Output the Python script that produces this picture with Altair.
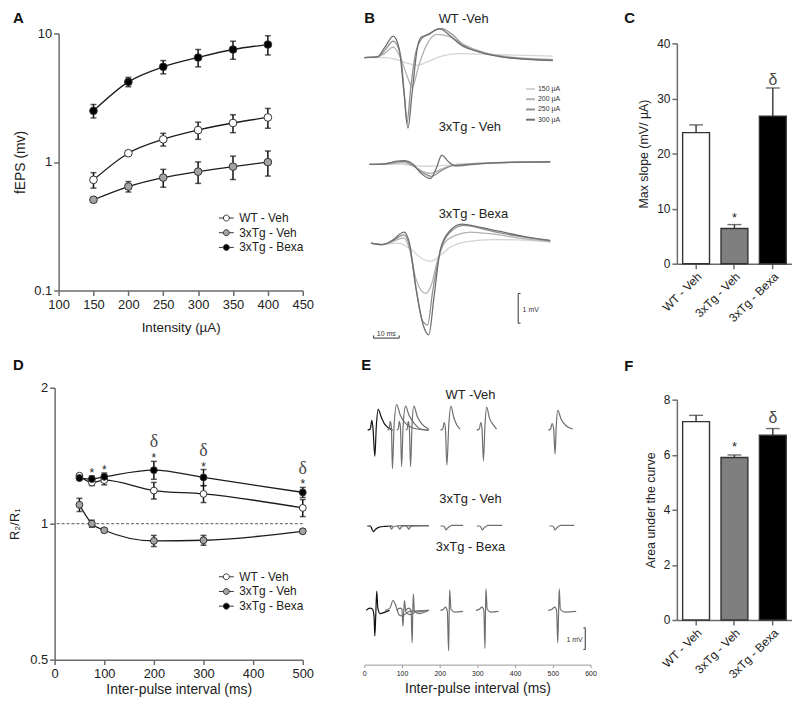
import altair as alt
import pandas as pd

FONT = "Liberation Sans"
TXT = "#222222"
AXC = "#6b6b6b"

SERIES = ["WT - Veh", "3xTg - Veh", "3xTg - Bexa"]
SERIES_FILL = ["#ffffff", "#a3a3a3", "#000000"]
BAR_FILL = ["#ffffff", "#7f7f7f", "#000000"]

# ---------------- Panel A : input / output ----------------
intensity = [150, 200, 250, 300, 350, 400]
a_wt = [0.726, 1.17, 1.50, 1.77, 2.01, 2.22]
a_wt_sem = [0.10, 0.05, 0.17, 0.27, 0.32, 0.39]
a_veh = [0.508, 0.644, 0.756, 0.841, 0.92, 0.997]
a_veh_sem = [0.02, 0.06, 0.12, 0.16, 0.19, 0.22]
a_bexa = [2.5, 4.2, 5.5, 6.5, 7.5, 8.2]
a_bexa_sem = [0.3, 0.35, 0.65, 1.0, 1.2, 1.4]

# ---------------- Panel C : max slope ----------------
c_mean = [23.8, 6.4, 26.8]
c_sem = [1.4, 0.7, 5.1]
c_star = ["", "*", ""]
c_delta = ["", "", "δ"]

# ---------------- Panel D : paired pulse ----------------
ipi = [50, 75, 100, 200, 300, 500]
d_wt = [1.277, 1.234, 1.249, 1.184, 1.164, 1.084]
d_wt_sem = [0.01, 0.02, 0.03, 0.05, 0.05, 0.047]
d_veh = [1.101, 1.0, 0.967, 0.916, 0.919, 0.962]
d_veh_sem = [0.037, 0.018, 0.01, 0.026, 0.023, 0.01]
d_bexa = [1.262, 1.256, 1.27, 1.314, 1.266, 1.173]
d_bexa_sem = [0.01, 0.02, 0.025, 0.06, 0.052, 0.03]
d_star = ["", "*", "*", "*", "*", "*"]
d_delta = ["", "", "", "δ", "δ", "δ"]

# ---------------- Panel F : area under the curve ----------------
f_mean = [7.2, 5.9, 6.71]
f_sem = [0.23, 0.09, 0.24]
f_star = ["", "*", ""]
f_delta = ["", "", "δ"]

# ---------------- Panel B : fEPSP traces (ms, mV) ----------------
INT_LEVELS = ["150 µA", "200 µA", "250 µA", "300 µA"]
INT_COLORS = ["#d4d4d4", "#b2b2b2", "#909090", "#6e6e6e"]
B_TRACES = {
    "WT": {
        "150 µA": ([0, 8, 12, 16, 20.4, 25, 30, 37, 50, 73],
                   [0, 0, -0.05, -0.17, -0.26, -0.12, 0.05, 0.13, 0.1, 0.05]),
        "200 µA": ([0, 5, 8, 11.2, 14, 16.5, 18.6, 21, 24, 28, 33, 38, 46, 56, 73],
                   [0, 0.02, 0.15, 0.35, 0.0, -0.6, -1.0, -0.3, 0.4, 0.78, 0.7, 0.45, 0.18, 0.02, -0.06]),
        "250 µA": ([0, 5, 8, 11.2, 14, 15.5, 16.5, 18, 20, 22, 25, 30, 34, 38, 46, 56, 73],
                   [0, 0.02, 0.25, 0.55, 0.1, -1.2, -2.2, -1.0, 0.2, 0.6, 0.8, 0.97, 0.78, 0.45, 0.15, 0.0, -0.08]),
        "300 µA": ([0, 5, 8, 11.2, 13.5, 15.5, 16.9, 18.5, 20.5, 22, 25, 29, 33, 37, 45, 55, 73],
                   [0, 0.02, 0.35, 0.72, 0.3, -1.3, -2.37, -1.2, 0.3, 0.68, 0.78, 0.97, 0.75, 0.45, 0.18, 0.0, -0.1]),
    },
    "Veh": {
        "150 µA": ([2, 12, 18, 24, 30, 40, 55, 72],
                   [0, 0.02, -0.03, -0.06, -0.04, 0.02, 0.06, 0.08]),
        "200 µA": ([2, 10, 15, 19, 23, 26, 30, 36, 50, 72],
                   [0, 0.02, 0.06, -0.05, -0.25, -0.3, -0.15, 0.0, 0.06, 0.09]),
        "250 µA": ([2, 8, 12, 15.4, 19, 23, 26, 30, 34, 45, 60, 72],
                   [0, 0.02, 0.08, 0.1, -0.05, -0.3, -0.4, -0.2, -0.05, 0.03, 0.08, 0.09]),
        "300 µA": ([2, 8, 12, 15.4, 19, 22, 25.6, 28, 30, 32.5, 35.6, 45, 60, 72],
                   [0, 0.02, 0.1, 0.13, 0.0, -0.3, -0.47, -0.1, 0.31, 0.1, -0.05, 0.03, 0.08, 0.09]),
    },
    "Bexa": {
        "150 µA": ([2.6, 8, 13, 18, 22, 25.6, 29, 33, 40, 50, 62, 72],
                   [0, -0.03, 0.0, -0.2, -0.5, -0.61, -0.45, -0.15, 0.05, 0.12, 0.1, 0.03]),
        "200 µA": ([2.6, 7, 11, 15.4, 17.5, 20, 23.7, 26, 28, 31, 35, 41, 50, 60, 72],
                   [0, -0.05, 0.05, 0.18, -0.2, -1.2, -1.69, -1.4, -0.7, 0.0, 0.25, 0.37, 0.3, 0.17, 0.06]),
        "250 µA": ([2.6, 7, 11, 15.4, 17.5, 20, 22.5, 24.5, 26.5, 29.5, 33, 38.5, 45, 52, 62, 72],
                   [0, -0.05, 0.08, 0.28, -0.1, -1.5, -2.6, -2.75, -1.6, -0.25, 0.35, 0.6, 0.5, 0.35, 0.2, 0.08]),
        "300 µA": ([2.6, 7, 11, 15.4, 17.5, 20, 23, 25, 27, 29.5, 33, 37.8, 44, 52, 62, 72],
                   [0, -0.05, 0.1, 0.37, 0.0, -1.5, -2.8, -3.08, -1.8, -0.2, 0.4, 0.64, 0.55, 0.4, 0.22, 0.09]),
    },
}

# ---------------- Panel E : paired-pulse traces (ms, mV) ----------------
E_TRACES = {
    "WT": {
        "conditioning": ([9, 16, 20, 23, 28, 32, 37, 45, 55, 75],
                         [0, 0.05, 0.45, 0.1, -1.2, 0.2, 0.95, 0.6, 0.25, 0.0]),
        "50 ms": ([62, 66, 69, 72, 74.6, 79, 86, 95, 110, 140, 171],
                  [0, 0.05, 0.4, 0.1, -1.77, 0.2, 1.17, 0.7, 0.3, 0.05, 0]),
        "75 ms": ([86, 90, 93, 96, 99, 103, 109.6, 118, 133, 150, 171],
                  [0, 0.05, 0.4, 0.1, -1.67, 0.2, 1.1, 0.7, 0.3, 0.05, 0]),
        "100 ms": ([110, 114, 116.6, 119.5, 122.8, 126.5, 131.6, 140, 152, 171],
                   [0, 0.05, 0.4, 0.1, -1.67, 0.2, 1.1, 0.65, 0.3, 0.05]),
        "200 ms": ([202, 208, 212, 215, 219, 224, 229.8, 237, 245, 254],
                   [0, 0.05, 0.35, 0.1, -1.6, 0.2, 1.1, 0.6, 0.25, 0.05]),
        "300 ms": ([298, 305, 309, 312, 316, 320, 324.6, 332, 342, 351],
                   [0, 0.05, 0.35, 0.1, -1.4, 0.2, 1.05, 0.55, 0.25, 0.05]),
        "500 ms": ([488, 494, 498, 502, 506, 509, 513, 522, 535, 553],
                   [0, 0.05, 0.3, 0.1, -1.1, 0.15, 0.9, 0.5, 0.2, 0.05]),
    },
    "Veh": {
        "conditioning": ([8, 16, 20, 24, 30, 40, 55, 75],
                         [0, 0, -0.12, -0.26, -0.15, -0.05, -0.02, 0]),
        "50 ms": ([62, 68, 72, 76, 84, 100, 171], [0, -0.02, -0.15, -0.05, 0, 0.02, 0.02]),
        "75 ms": ([86, 90, 94, 98, 105, 130, 171], [0, -0.04, -0.15, -0.05, 0, 0.02, 0.02]),
        "100 ms": ([110, 114, 118, 122, 130, 150, 171], [0, -0.04, -0.15, -0.05, 0, 0.02, 0.02]),
        "200 ms": ([202, 210, 214, 217, 222, 232, 262], [0, 0, -0.08, -0.18, -0.08, 0.03, 0.03]),
        "300 ms": ([298, 306, 310, 313, 318, 328, 366], [0, 0, -0.08, -0.18, -0.08, 0.03, 0.03]),
        "500 ms": ([491, 499, 503, 506, 511, 521, 557], [0, 0, -0.08, -0.18, -0.08, 0.03, 0.03]),
    },
    "Bexa": {
        "conditioning": ([5, 15, 22, 26, 28, 30.5, 33, 36, 42, 55, 67],
                         [0, 0.1, 0.05, -0.3, -1.18, -0.2, 0.88, 0.1, -0.15, -0.08, 0]),
        "50 ms": ([55, 68, 76, 84, 92, 100, 120, 171], [0, 0.1, 0.45, 0.2, -0.2, -0.25, -0.05, 0]),
        "75 ms": ([86, 95, 100, 102.6, 104.5, 106.7, 110, 120, 135, 171],
                  [0, 0.1, 0.05, -0.73, -0.1, 0.45, -0.05, -0.2, -0.1, 0]),
        "100 ms": ([110, 118, 124, 127, 128.5, 130, 133, 145, 171],
                   [0, 0.1, 0.0, -1.48, -0.2, 0.76, -0.05, -0.15, 0]),
        "200 ms": ([202, 210, 215, 220, 223.7, 225, 226.5, 230, 240, 262],
                   [0, 0.05, 0.15, 0.0, -1.85, -0.3, 0.94, 0.05, -0.08, -0.05]),
        "300 ms": ([296, 305, 312, 317, 320, 321.3, 322.6, 326, 336, 356],
                   [0, 0.05, 0.15, 0.0, -1.74, -0.3, 0.98, 0.05, -0.08, -0.05]),
        "500 ms": ([488, 498, 505, 510, 513, 515, 517, 520, 532, 562],
                   [0, 0.05, 0.15, 0.0, -1.48, -0.3, 0.98, 0.05, -0.08, -0.05]),
    },
}
GROUP_LABEL = {"WT": "WT -Veh", "Veh": "3xTg - Veh", "Bexa": "3xTg - Bexa"}

LEG_SYMBOL = "M-1,0H-0.4M0.4,0H1M0.4,0A0.4,0.4 0 1,1 -0.4,0A0.4,0.4 0 1,1 0.4,0Z"


def ax(**kw):
    base = dict(grid=False, domainColor=AXC, tickColor=AXC, domainWidth=1.5, tickWidth=1.5,
                tickSize=5, labelFont=FONT, labelColor=TXT, titleFont=FONT, titleColor=TXT,
                titleFontWeight="normal", labelFlush=False)
    base.update(kw)
    return alt.Axis(**base)


def letter(text, dx, offset):
    return alt.TitleParams(text=text, anchor="start", frame="group", dx=dx, offset=offset,
                           baseline="alphabetic", font=FONT, fontSize=15, fontWeight="bold",
                           color="#111111")


def series_frame(x, triples):
    rows = []
    for name, vals, sems in triples:
        for xi, v, s in zip(x, vals, sems):
            rows.append({"x": xi, "series": name, "value": v, "lo": v - s, "hi": v + s})
    return pd.DataFrame(rows)


def xy_layers(df, xenc, yfun, legend, pt_size):
    line = alt.Chart(df).mark_line(interpolate="monotone", color="#1c1c1c", strokeWidth=1.3).encode(
        x=xenc, y=yfun("value:Q"), detail="series:N")
    err = alt.Chart(df).mark_rule(color="#111111", strokeWidth=1.5).encode(
        x=xenc, y=yfun("lo:Q"), y2="hi:Q")
    caps = alt.Chart(df).transform_fold(["lo", "hi"], as_=["end", "cap"]).mark_tick(
        orient="horizontal", size=6, thickness=1.5, color="#111111").encode(x=xenc, y=yfun("cap:Q"))
    pts = alt.Chart(df).mark_circle(size=pt_size, stroke="#333333", strokeWidth=1, opacity=1).encode(
        x=xenc, y=yfun("value:Q"),
        fill=alt.Fill("series:N", scale=alt.Scale(domain=SERIES, range=SERIES_FILL), legend=legend))
    return [line, err, caps, pts]


def series_legend(lx, ly, row_pad):
    return alt.Legend(title=None, orient="none", legendX=lx, legendY=ly, symbolType=LEG_SYMBOL,
                      symbolSize=225, symbolStrokeColor="#333333", symbolStrokeWidth=1,
                      symbolOpacity=1, labelFont=FONT, labelFontSize=12, labelColor=TXT,
                      labelOffset=5, rowPadding=row_pad, padding=0)


# ---------- A ----------
dfA = series_frame(intensity, [(SERIES[0], a_wt, a_wt_sem), (SERIES[1], a_veh, a_veh_sem),
                               (SERIES[2], a_bexa, a_bexa_sem)])
a_x = alt.X("x:Q", scale=alt.Scale(domain=[100, 450], range=[4, 250], nice=False, zero=False),
            axis=ax(values=[100, 150, 200, 250, 300, 350, 400, 450], labelFontSize=13,
                    title="Intensity (µA)", titleFontSize=13.5, titlePadding=9, labelPadding=3))
a_yscale = alt.Scale(type="log", domain=[0.1, 10], nice=False)
a_yaxis = ax(values=[0.1, 1, 10], format="~g", labelFontSize=13, title="fEPS (mv)",
             titleFontSize=14, titlePadding=6, offset=-4)


def a_y(f):
    return alt.Y(f, scale=a_yscale, axis=a_yaxis)


chartA = alt.layer(*xy_layers(dfA, a_x, a_y, series_legend(165, 178, 0.8), 60)).properties(
    width=250, height=259, title=letter("A", -42, -10.4))

# ---------- D ----------
dfD = series_frame(ipi, [(SERIES[0], d_wt, d_wt_sem), (SERIES[1], d_veh, d_veh_sem),
                         (SERIES[2], d_bexa, d_bexa_sem)])
d_x = alt.X("x:Q", scale=alt.Scale(domain=[0, 500], nice=False, zero=False),
            axis=ax(values=[0, 100, 200, 300, 400, 500], labelFontSize=13,
                    title="Inter-pulse interval (ms)", titleFontSize=14, titlePadding=2, labelPadding=3))
d_yscale = alt.Scale(type="log", domain=[0.5, 2], nice=False)
d_yaxis = ax(values=[0.5, 1, 2], format="~g", labelFontSize=13, title="R₂/R₁",
             titleFontSize=13, titlePadding=8)


def d_y(f):
    return alt.Y(f, scale=d_yscale, axis=d_yaxis)


dAnn = pd.DataFrame({"x": ipi, "hi": [v + s for v, s in zip(d_bexa, d_bexa_sem)],
                     "star": d_star, "delta": d_delta})
unity = alt.Chart(pd.DataFrame({"ref": [1.0]})).mark_rule(
    strokeDash=[3, 2], color="#555555", strokeWidth=1).encode(y=d_y("ref:Q"))
d_stars = alt.Chart(dAnn).mark_text(fontSize=12, baseline="alphabetic", dy=1, color=TXT).encode(
    x=d_x, y=d_y("hi:Q"), text="star:N")
d_deltas = alt.Chart(dAnn).mark_text(fontSize=18, baseline="alphabetic", dy=-14, color="#4a4a4a",
                                     font="Liberation Serif").encode(x=d_x, y=d_y("hi:Q"), text="delta:N")
chartD = alt.layer(unity, *xy_layers(dfD, d_x, d_y, series_legend(165, 182.5, 0.8), 48),
                   d_stars, d_deltas).properties(width=250, height=274, title=letter("D", -42, -3.4))


# ---------- C and F ----------
def bar_panel(means, sems, stars, deltas, dom, ticks, rng, height, ytitle, star_dy, delta_dy, ltr, loff):
    df = pd.DataFrame({"group": SERIES, "mean": means, "hi": [m + s for m, s in zip(means, sems)],
                       "star": stars, "delta": deltas})
    xenc = alt.X("group:N", sort=SERIES,
                 scale=alt.Scale(domain=SERIES, paddingInner=0.3, paddingOuter=0.15),
                 axis=ax(labelAngle=315, labelAlign="right", labelBaseline="top", labelFontSize=12,
                         title=None, labelPadding=2))
    yscale = alt.Scale(domain=dom, range=rng, nice=False, zero=True)
    yaxis = ax(values=ticks, labelFontSize=12, title=ytitle, titleFontSize=12.5, titlePadding=6)

    def yy(f):
        return alt.Y(f, scale=yscale, axis=yaxis)

    bars = alt.Chart(df).mark_bar(stroke="#333333", strokeWidth=1.4).encode(
        x=xenc, y=yy("mean:Q"),
        fill=alt.Fill("group:N", scale=alt.Scale(domain=SERIES, range=BAR_FILL), legend=None))
    err = alt.Chart(df).mark_rule(color="#333333", strokeWidth=1.4).encode(x=xenc, y=yy("mean:Q"), y2="hi:Q")
    cap = alt.Chart(df).mark_tick(orient="horizontal", size=14, thickness=1.4, color="#333333").encode(
        x=xenc, y=yy("hi:Q"))
    st = alt.Chart(df).mark_text(fontSize=13, baseline="alphabetic", dy=star_dy, color=TXT).encode(
        x=xenc, y=yy("hi:Q"), text="star:N")
    dl = alt.Chart(df).mark_text(fontSize=16, baseline="alphabetic", dy=delta_dy, color="#4a4a4a").encode(
        x=xenc, y=yy("hi:Q"), text="delta:N")
    return alt.layer(bars, err, cap, st, dl).properties(width=116, height=height, title=letter(ltr, -53, loff))


chartC = bar_panel(c_mean, c_sem, c_star, c_delta, [0, 40], [0, 10, 20, 30, 40], [232, 10], 232,
                   "Max slope (mV/ µA)", -3, -3, "C", -4)
chartF = bar_panel(f_mean, f_sem, f_star, f_delta, [0, 8], [0, 2, 4, 6, 8], [234, 12], 234,
                   "Area under the curve", -4, -6, "F", 2)


# ---------- trace helpers ----------
def traces_frame(group, traces):
    rows = []
    for name, (ts, vs) in traces.items():
        for t, v in zip(ts, vs):
            rows.append({"group": group, "trace": name, "t": t, "v": v,
                         "kind": "first" if name == "conditioning" else "second"})
    return pd.DataFrame(rows)


def label_layer(text, xd, yd, align):
    return alt.Chart(pd.DataFrame({"label": [text]})).mark_text(
        align=align, baseline="alphabetic", fontSize=13, color=TXT).encode(
        x=alt.datum(xd), y=alt.datum(yd), text="label:N")


def small_text(text, xd, yd, align):
    return alt.Chart(pd.DataFrame({"label": [text]})).mark_text(
        align=align, baseline="alphabetic", fontSize=7, color="#333333").encode(
        x=alt.datum(xd), y=alt.datum(yd), text="label:N")


def seg(x1, x2, y1, y2):
    enc = dict(x=alt.datum(x1), y=alt.datum(y1))
    if x2 is not None:
        enc["x2"] = alt.datum(x2)
    if y2 is not None:
        enc["y2"] = alt.datum(y2)
    return alt.Chart(pd.DataFrame({"k": [0]})).mark_rule(color="#333333", strokeWidth=1).encode(**enc)


# ---------- B ----------
B_X = alt.X("t:Q", scale=alt.Scale(domain=[0, 73], range=[0, 190], nice=False, zero=False), axis=None)
B_LEGEND = alt.Legend(title=None, orient="none", legendX=162, legendY=50.5, symbolType="stroke",
                      symbolSize=81, symbolStrokeWidth=2, labelFontSize=7, labelFont=FONT,
                      labelColor="#333333", labelOffset=2, rowPadding=0.3, padding=0)
B_DOMAINS = {"WT": [-9.423, 0.81], "Veh": [-5.833, 4.4], "Bexa": [-3.19, 7.043]}
B_LABEL_V = {"WT": 1.153, "Veh": 1.133, "Bexa": 0.857}


def b_group(g, extras=()):
    df = traces_frame(g, B_TRACES[g])
    lines = alt.Chart(df).mark_line(interpolate="monotone", strokeWidth=1.3).encode(
        x=B_X, y=alt.Y("v:Q", scale=alt.Scale(domain=B_DOMAINS[g], nice=False, zero=False), axis=None),
        color=alt.Color("trace:N", scale=alt.Scale(domain=INT_LEVELS, range=INT_COLORS), legend=B_LEGEND))
    return alt.layer(lines, label_layer(GROUP_LABEL[g], 28.8, B_LABEL_V[g], "left"), *extras)


b_scalebars = [
    seg(3.6, 13.5, -3.19, None), seg(3.6, None, -3.19, -3.1), seg(13.5, None, -3.19, -3.1),
    small_text("10 ms", 8.5, -3.12, "center"),
    seg(59.6, None, -1.69, -2.69), seg(59.6, 60.5, -1.69, None), seg(59.6, 60.5, -2.69, None),
    small_text("1 mV", 61.3, -2.32, "left"),
]
chartB = alt.layer(b_group("WT"), b_group("Veh"), b_group("Bexa", b_scalebars)).resolve_scale(
    y="independent").properties(width=253, height=307, title=letter("B", 0, -24.6))

# ---------- E ----------
E_X = alt.X("t:Q", scale=alt.Scale(domain=[0, 600], range=[0, 228], nice=False, zero=False),
            axis=ax(values=list(range(0, 601, 50)), labelFontSize=7, tickSize=3, domainColor="#9a9a9a",
                    tickColor="#9a9a9a", domainWidth=1, tickWidth=1, labelPadding=2,
                    title="Inter-pulse interval (ms)", titleFontSize=14, titlePadding=5))
E_DOMAINS = {"WT": [-10.741, 1.941], "Veh": [-6.35, 6.332], "Bexa": [-2.486, 10.195]}
E_LABEL_V = {"WT": 1.44, "Veh": 1.06, "Bexa": 2.71}


def e_group(g, extras=()):
    df = traces_frame(g, E_TRACES[g])
    lines = alt.Chart(df).mark_line(interpolate="monotone", strokeWidth=1.2).encode(
        x=E_X, y=alt.Y("v:Q", scale=alt.Scale(domain=E_DOMAINS[g], nice=False, zero=False), axis=None),
        color=alt.Color("kind:N", scale=alt.Scale(domain=["first", "second"], range=["#111111", "#6f6f6f"]),
                        legend=None),
        detail="trace:N")
    return alt.layer(lines, label_layer(GROUP_LABEL[g], 281.6, E_LABEL_V[g], "center"), *extras)


e_scalebar = [
    seg(586, None, -0.8, -1.79), seg(581, 586, -0.8, None), seg(581, 586, -1.79, None),
    small_text("1 mV", 579, -1.44, "right"),
]
chartE = alt.layer(e_group("WT"), e_group("Veh"), e_group("Bexa", e_scalebar)).resolve_scale(
    y="independent").properties(width=253, height=279, title=letter("E", -3, 3))

chart = alt.concat(chartA, chartB, chartC, chartD, chartE, chartF, columns=3).properties(
    bounds="flush", align="each", spacing={"row": 50, "column": 62},
    padding={"left": 0, "top": 0, "right": 0, "bottom": 0},
).resolve_scale(color="independent", fill="independent").configure_view(stroke=None).configure_text(font=FONT)

chart.save("out.html", embed_options={"renderer": "svg", "actions": False})
